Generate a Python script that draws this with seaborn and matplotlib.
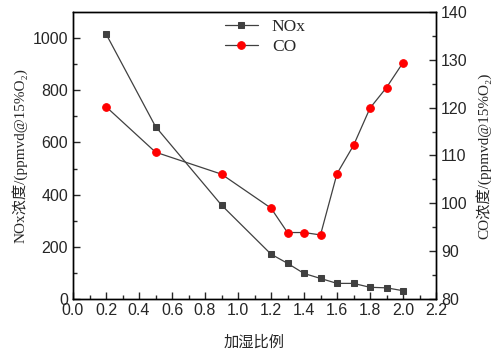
import numpy as np
import pandas as pd
import matplotlib
matplotlib.use("Agg")
import matplotlib.pyplot as plt
import seaborn as sns

# data
ratio = [0.2, 0.5, 0.9, 1.2, 1.3, 1.4, 1.5, 1.6, 1.7, 1.8, 1.9, 2.0]
nox = [1016, 661, 360, 172, 137, 98, 79, 60, 60, 45, 43, 32]
co = [120.2, 110.7, 106.1, 99.0, 93.9, 93.9, 93.4, 106.2, 112.1, 119.9, 124.2, 129.4]

x_label = "加湿比例"
y1_label = "NOx浓度/(ppmvd@15%O₂)"
y2_label = "CO浓度/(ppmvd@15%O₂)"

sns.set_style("ticks")
plt.rcParams['font.family'] = ['Liberation Sans', 'DejaVu Sans']
serif_cjk = ['Liberation Serif', 'Noto Sans CJK SC', 'DejaVu Serif']

df = pd.DataFrame({"ratio": ratio, "NOx": nox, "CO": co})

fig, ax = plt.subplots(figsize=(5, 3.51), dpi=100)
fig.subplots_adjust(left=0.146, right=0.872, top=0.966, bottom=0.148)
ax2 = ax.twinx()

line_col = "#404040"
sns.lineplot(data=df, x="ratio", y="NOx", ax=ax, color=line_col, marker="s",
             markersize=4.5, markeredgecolor=line_col, linewidth=0.9, label="NOx", legend=False)
sns.lineplot(data=df, x="ratio", y="CO", ax=ax2, color=line_col, marker="o",
             markersize=5.5, markerfacecolor="red", markeredgecolor="red",
             linewidth=0.9, label="CO", legend=False)

ax.set_xlim(0, 2.2)
ax.set_ylim(0, 1100)
ax2.set_ylim(80, 140)
ax.set_xticks(np.arange(0, 2.21, 0.2))
ax.set_xticks(np.arange(0.1, 2.2, 0.2), minor=True)
ax.set_yticks(np.arange(0, 1001, 200))
ax.set_yticks(np.arange(100, 1100, 200), minor=True)
ax2.set_yticks(np.arange(80, 141, 10))
ax2.set_yticks(np.arange(85, 140, 10), minor=True)
ax.set_xticklabels([f"{v:.1f}" for v in np.arange(0, 2.21, 0.2)])

for a in (ax, ax2):
    a.tick_params(direction="in", labelsize=11.5, length=5, width=1)
    a.tick_params(which="minor", direction="in", length=3, width=1)
    for s in a.spines.values():
        s.set_visible(True)
        s.set_linewidth(1)
        s.set_color("black")
ax.tick_params(axis="x", pad=3)

ax.set_xlabel(x_label, family=serif_cjk, fontsize=11, labelpad=12)
ax.set_ylabel(y1_label, family=serif_cjk, fontsize=11, labelpad=4)
ax2.set_ylabel(y2_label, family=serif_cjk, fontsize=11, labelpad=6)

h1, l1 = ax.get_legend_handles_labels()
h2, l2 = ax2.get_legend_handles_labels()
ax2.legend(h1 + h2, l1 + l2, loc="upper center", frameon=False,
           prop={'family': serif_cjk, 'size': 12.5}, handlelength=1.9,
           borderaxespad=0.0, labelspacing=0.2, bbox_to_anchor=(0.53, 1.0))

plt.savefig("out.png", dpi=100)
